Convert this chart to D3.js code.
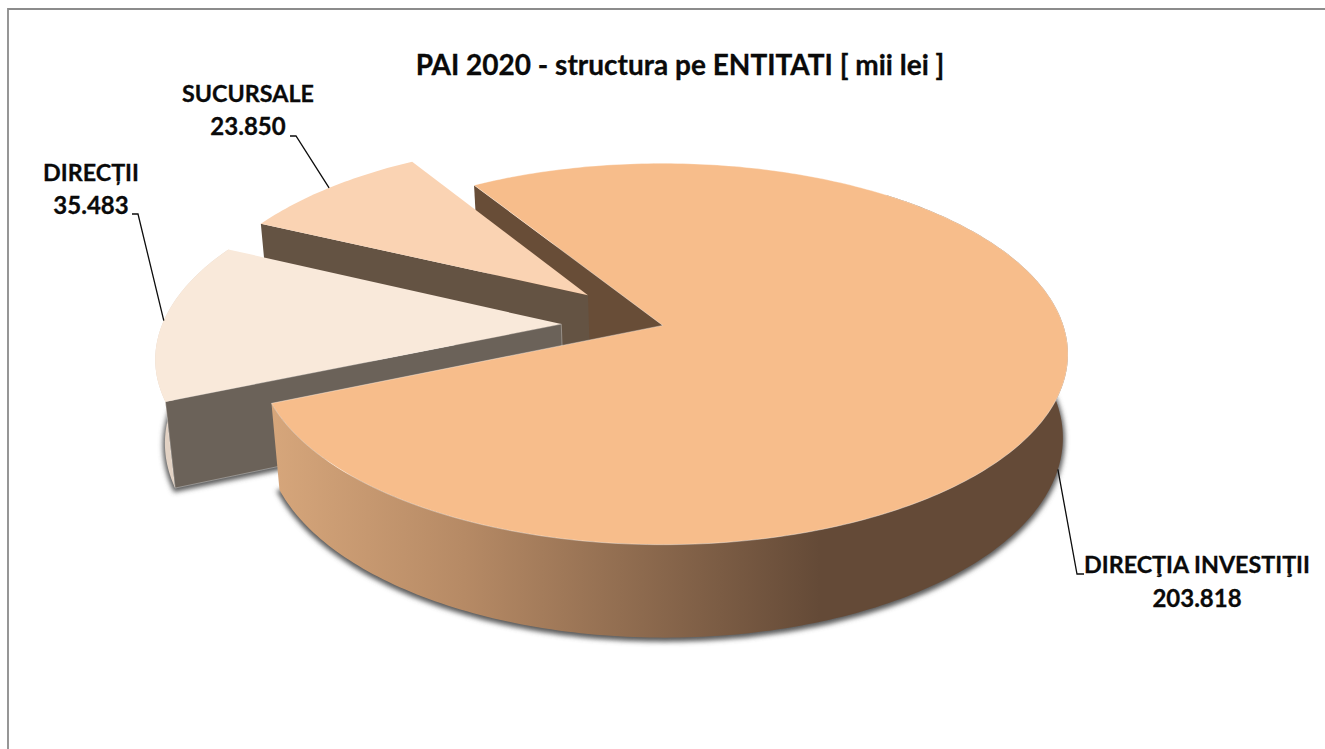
<!DOCTYPE html>
<html>
<head>
<meta charset="utf-8">
<script src="https://cdn.jsdelivr.net/npm/d3@7"></script>
<style>
  html, body { margin: 0; padding: 0; background: #fff; }
  text { font-family: Lato, "Open Sans", sans-serif; font-weight: 700; fill: #0a0a0a; stroke: #0a0a0a; stroke-width: 0.3px; }
</style>
</head>
<body>
<div id="container"></div>
<script>
/* DATA */
const title = "PAI 2020 - structura pe ENTITATI [ mii lei ]";
const categories = ["DIRECŢIA INVESTIŢII", "DIRECȚII", "SUCURSALE"];
const values = [203818, 35483, 23850];
const valueLabels = ["203.818", "35.483", "23.850"];

/* CONSTANTS AND GLOBALS */
const width = 1325,
  height = 749,
  firstAngle = -32, // first slice angle, degrees
  explode = [0.007, 0.245, 0.245],
  radius = [0.993, 0.99, 0.99],
  topColor = ["#f7bd8b", "#fad3b3", "#f9e9da"],
  cutColor = ["#684d37", "#645343", "#6b6259"];

// 3d view of the pie: u,v on the disc, z goes down the thickness
const view = {cx: 660, cy: 325, rx: 403.3, ry: 187.6, depth: 84, k: 0.151, m: 0.016, dx: 1.5};

function project(u, v, z) {
  const w = 1 - view.k * v + view.m * z;
  return [view.cx + view.dx * z + view.rx * u / w, view.cy + (view.ry * v + view.depth * z) / w];
}

/* SCALES */
const pie = d3.pie().sort(null)
  .startAngle(firstAngle * Math.PI / 180)
  .endAngle((firstAngle + 360) * Math.PI / 180);

const slices = pie(values).map((d, i) => {
  const mid = (d.startAngle + d.endAngle) / 2;
  return {
    i, start: d.startAngle, end: d.endAngle, mid,
    ou: explode[i] * Math.sin(mid),
    ov: -explode[i] * Math.cos(mid),
    r: radius[i]
  };
});

const line = d3.line();

// point of a slice at angle a, fraction t of its radius
function point(s, a, t, z) {
  return project(s.ou + s.r * t * Math.sin(a), s.ov - s.r * t * Math.cos(a), z);
}
function rim(s, a0, a1, z) {
  const n = Math.ceil(Math.abs(a1 - a0) * 60);
  return d3.range(n + 1).map(j => point(s, a0 + (a1 - a0) * j / n, 1, z));
}
function topFace(s, z) {
  return line([point(s, 0, 0, z), ...rim(s, s.start, s.end, z)]) + "Z";
}
function rimSide(s, a0, a1) {
  return line([...rim(s, a0, a1, 0), ...rim(s, a1, a0, 1)]) + "Z";
}
function cutFace(s, a) {
  return line([point(s, a, 0, 0), point(s, a, 1, 0), point(s, a, 1, 1), point(s, a, 0, 1)]) + "Z";
}

/* HTML ELEMENTS */
const svg = d3.select("#container")
  .append("svg")
  .attr("width", width)
  .attr("height", height)
  .style("display", "block");

const defs = svg.append("defs");

defs.append("filter")
  .attr("id", "blur")
  .attr("x", "-10%").attr("y", "-10%").attr("width", "120%").attr("height", "120%")
  .append("feGaussianBlur")
  .attr("stdDeviation", 2.5);

const sideGrad = defs.append("linearGradient")
  .attr("id", "sideGrad")
  .attr("gradientUnits", "userSpaceOnUse")
  .attr("x1", 272).attr("x2", 820).attr("y1", 0).attr("y2", 0);
sideGrad.append("stop").attr("offset", 0).attr("stop-color", "#d6a67b");
sideGrad.append("stop").attr("offset", 0.35).attr("stop-color", "#b68a65");
sideGrad.append("stop").attr("offset", 1).attr("stop-color", "#644a37");

// chart frame, only top and left are in the picture
svg.append("path")
  .attr("d", line([[8, height], [8, 9], [width, 9]]))
  .attr("fill", "none")
  .attr("stroke", "#8c8c8c")
  .attr("stroke-width", 1.8);

const [main, directii, sucursale] = slices;

// soft shadow under the slices
svg.append("g")
  .attr("filter", "url(#blur)")
  .attr("transform", "translate(0,2)")
  .selectAll("path")
  .data([main, directii])
  .join("path")
  .attr("d", s => topFace(s, 1))
  .attr("fill", "#5a5a5a")
  .attr("stroke", "#5a5a5a")
  .attr("stroke-width", 4);

const pieG = svg.append("g");

// back to front: main cut, sucursale, directii, main
pieG.append("path")
  .attr("d", cutFace(main, main.start))
  .attr("fill", cutColor[0]);

pieG.append("path")
  .attr("d", cutFace(sucursale, sucursale.start))
  .attr("fill", cutColor[1]);
pieG.append("path")
  .attr("d", topFace(sucursale, 0))
  .attr("fill", topColor[1]);

pieG.append("path")
  .attr("d", rimSide(directii, directii.start, directii.end))
  .attr("fill", "#e2d2c4");
pieG.append("path")
  .attr("d", cutFace(directii, directii.start))
  .attr("fill", cutColor[2])
  .attr("stroke", "#fff")
  .attr("stroke-opacity", 0.45)
  .attr("stroke-width", 0.7);
pieG.append("path")
  .attr("d", topFace(directii, 0))
  .attr("fill", topColor[2]);

pieG.append("path")
  .attr("d", rimSide(main, main.mid - 1.2, main.end))
  .attr("fill", "url(#sideGrad)");
pieG.append("path")
  .attr("d", topFace(main, 0))
  .attr("fill", topColor[0])
  .attr("stroke", "#fff")
  .attr("stroke-opacity", 0.5)
  .attr("stroke-width", 0.7);

/* TEXT */
svg.append("text")
  .attr("x", 680).attr("y", 75)
  .attr("text-anchor", "middle")
  .style("font-size", "28px")
  .text(title);

// label block position and elbow of the leader, by slice
const labelAt = [[1197, 573], [91, 180.5], [248, 101.5]];
const elbowAt = [[[1077, 574], [1084, 574]], [[138, 214], [132, 214]], [[296, 136], [290, 136]]];
const anchorDepth = [1, 0, 0];

const labels = svg.append("g")
  .selectAll("g")
  .data(slices)
  .join("g");

labels.append("path")
  .attr("d", s => line([point(s, s.mid, 1, anchorDepth[s.i]), ...elbowAt[s.i]]))
  .attr("fill", "none")
  .attr("stroke", "#0d0d0d")
  .attr("stroke-width", 1.3);

labels.append("text")
  .attr("x", s => labelAt[s.i][0])
  .attr("y", s => labelAt[s.i][1])
  .attr("text-anchor", "middle")
  .style("font-size", "23.3px")
  .text(s => categories[s.i]);

labels.append("text")
  .attr("x", s => labelAt[s.i][0])
  .attr("y", s => labelAt[s.i][1] + 33.5)
  .attr("text-anchor", "middle")
  .style("font-size", "24px")
  .text(s => valueLabels[s.i]);
</script>
</body>
</html>
